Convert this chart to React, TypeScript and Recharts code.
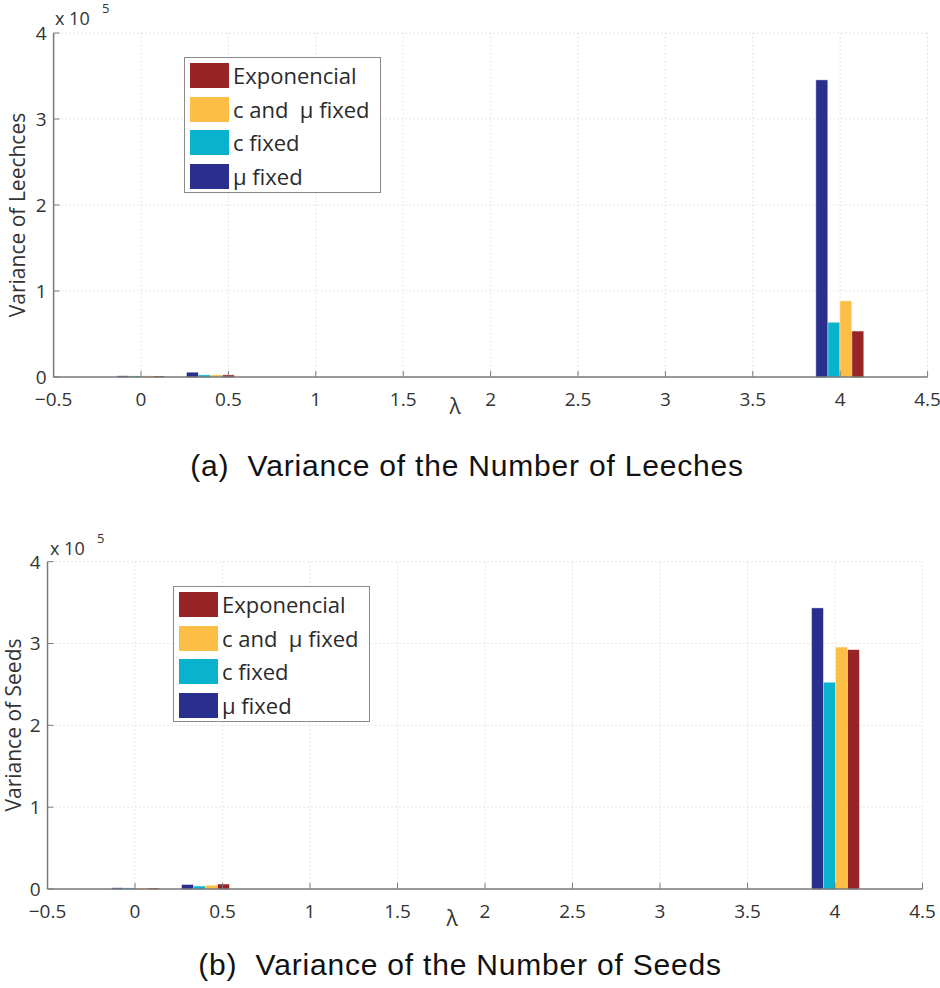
import { BarChart, Bar, XAxis, YAxis, CartesianGrid } from 'recharts';

// lambda positions of the bar groups
const lambdas = [0, 0.4, 4];
const xTicks = [-0.5, 0, 0.5, 1, 1.5, 2, 2.5, 3, 3.5, 4, 4.5];
const yTicks = [0, 100000, 200000, 300000, 400000];

// (a) variance of leeches
const leechMuFixed = [900, 5000, 345000];
const leechCFixed = [700, 2000, 63000];
const leechCMuFixed = [800, 2000, 88000];
const leechExp = [600, 2000, 53000];

// (b) variance of seeds
const seedMuFixed = [1000, 5000, 343000];
const seedCFixed = [800, 3000, 252000];
const seedCMuFixed = [700, 4000, 295000];
const seedExp = [600, 5500, 292000];

const series = [
  { key: 'mu', name: 'μ fixed', color: '#2a2f8e' },
  { key: 'c', name: 'c fixed', color: '#0ab3cd' },
  { key: 'cmu', name: 'c and  μ fixed', color: '#fcbe44' },
  { key: 'exp', name: 'Exponencial', color: '#982427' },
];

const buildRows = (mu: number[], c: number[], cmu: number[], exp: number[]) =>
  lambdas.map((lambda, i) => ({ lambda, mu: mu[i], c: c[i], cmu: cmu[i], exp: exp[i] }));

const leechRows = buildRows(leechMuFixed, leechCFixed, leechCMuFixed, leechExp);
const seedRows = buildRows(seedMuFixed, seedCFixed, seedCMuFixed, seedExp);

const FONT = '"Open Sans", sans-serif';
const AXIS = '#7a7a7a';
const TICK_TEXT = '#333';
const TICK_LEN = 6;
const W = 940;
const H = 420;

const fmtX = (v: number) => (v < 0 ? '\u2212' + Math.abs(v) : String(v));
const fmtY = (v: number) => String(v / 100000);

// MATLAB style: tick marks point into the plot box
const BottomTick = ({ x, y, payload }: any) => (
  <g>
    <line x1={x} x2={x} y1={y - 15} y2={y - 15 - TICK_LEN} stroke={AXIS} />
    <text x={x} y={y} dy="0.72em" textAnchor="middle" fontFamily={FONT} fontSize={19} fill={TICK_TEXT}>
      {fmtX(payload.value)}
    </text>
  </g>
);

const LeftTick = ({ x, y, payload }: any) => (
  <g>
    <line x1={x + 7} x2={x + 7 + TICK_LEN} y1={y} y2={y} stroke={AXIS} />
    <text x={x} y={y} dy="0.36em" textAnchor="end" fontFamily={FONT} fontSize={19} fill={TICK_TEXT}>
      {fmtY(payload.value)}
    </text>
  </g>
);

const TopTick = ({ x, y }: any) => (
  <line x1={x} x2={x} y1={y} y2={y + TICK_LEN} stroke={AXIS} />
);

const RightTick = ({ x, y }: any) => (
  <line x1={x} x2={x - TICK_LEN} y1={y} y2={y} stroke={AXIS} />
);

interface PanelProps {
  top: number;
  rows: any[];
  plot: { left: number; top: number; right: number; bottom: number };
  yLabel: string;
  yLabelPos: [number, number];
  legendPos: [number, number];
  caption: string;
  captionPos: [number, number];
  lambdaPos: [number, number];
  expPos: [number, number];
}

function Legend({ left, top }: { left: number; top: number }) {
  const items = [...series].reverse();
  return (
    <div
      style={{
        position: 'absolute',
        left,
        top,
        width: 197,
        height: 136,
        boxSizing: 'border-box',
        border: '1px solid #8a8a8a',
        background: '#fff',
      }}
    >
      {items.map((s, i) => (
        <div key={s.key} style={{ position: 'absolute', left: 5, top: 5 + i * 33.7, height: 26 }}>
          <div
            style={{
              position: 'absolute',
              left: 0,
              top: 0,
              width: 39,
              height: 25,
              background: s.color,
              boxSizing: 'border-box',
              border: `1px dotted ${s.color}`,
            }}
          />
          <span
            style={{
              position: 'absolute',
              left: 43,
              top: -3,
              fontFamily: FONT,
              fontSize: 22,
              lineHeight: '30px',
              color: '#2a2a2a',
              whiteSpace: 'pre',
            }}
          >
            {s.name}
          </span>
        </div>
      ))}
    </div>
  );
}

function Panel(p: PanelProps) {
  const margin = {
    top: p.plot.top,
    right: W - p.plot.right,
    left: 0,
    bottom: H - p.plot.bottom - 30,
  };
  return (
    <div style={{ position: 'absolute', left: 0, top: p.top, width: W, height: H + 80 }}>
      <BarChart width={W} height={H} data={p.rows} margin={margin} barSize={11} barGap={1}>
        <CartesianGrid
          xAxisId="b"
          yAxisId="l"
          stroke="#cfcfcf"
          strokeDasharray="1 3"
          verticalValues={xTicks}
          horizontalValues={yTicks}
        />
        <XAxis
          xAxisId="b"
          dataKey="lambda"
          type="number"
          domain={[-0.5, 4.5]}
          ticks={xTicks}
          interval={0}
          allowDataOverflow
          height={30}
          stroke={AXIS}
          strokeWidth={1.5}
          tickLine={false}
          tickSize={0}
          tickMargin={15}
          tick={<BottomTick />}
        />
        <XAxis
          xAxisId="t"
          orientation="top"
          dataKey="lambda"
          type="number"
          domain={[-0.5, 4.5]}
          ticks={xTicks}
          interval={0}
          allowDataOverflow
          height={0}
          stroke={AXIS}
          strokeWidth={1.5}
          tickLine={false}
          tickSize={0}
          tickMargin={0}
          tick={<TopTick />}
        />
        <YAxis
          yAxisId="l"
          type="number"
          domain={[0, 400000]}
          ticks={yTicks}
          interval={0}
          width={p.plot.left}
          stroke={AXIS}
          strokeWidth={1.5}
          tickLine={false}
          tickSize={0}
          tickMargin={7}
          tick={<LeftTick />}
        />
        <YAxis
          yAxisId="r"
          orientation="right"
          type="number"
          domain={[0, 400000]}
          ticks={yTicks}
          interval={0}
          width={0}
          stroke={AXIS}
          strokeWidth={1.5}
          tickLine={false}
          tickSize={0}
          tickMargin={0}
          tick={<RightTick />}
        />
        {series.map((s) => (
          <Bar
            key={s.key}
            xAxisId="b"
            yAxisId="l"
            dataKey={s.key}
            name={s.name}
            fill={s.color}
            stroke={s.color}
            strokeWidth={0.5}
            isAnimationActive={false}
          />
        ))}
      </BarChart>
      <svg
        width={W}
        height={H + 80}
        style={{ position: 'absolute', left: 0, top: 0, pointerEvents: 'none' }}
      >
        <text x={p.expPos[0]} y={p.expPos[1]} fontFamily={FONT} fontSize={18} fill="#333">
          x 10
        </text>
        <text x={p.expPos[0] + 47} y={p.expPos[1] - 12} fontFamily={FONT} fontSize={13} fill="#333">
          5
        </text>
        <text
          x={p.lambdaPos[0]}
          y={p.lambdaPos[1]}
          fontFamily={FONT}
          fontSize={21}
          fill="#333"
          textAnchor="middle"
        >
          λ
        </text>
        <text
          transform={`translate(${p.yLabelPos[0]},${p.yLabelPos[1]}) rotate(-90)`}
          fontFamily={FONT}
          fontSize={21}
          fill="#333"
          textAnchor="middle"
          dominantBaseline="central"
        >
          {p.yLabel}
        </text>
        <text
          x={p.captionPos[0]}
          y={p.captionPos[1]}
          fontFamily='"Liberation Sans", Arial, sans-serif'
          fontSize={30}
          letterSpacing={0.8}
          fill="#111"
          textAnchor="middle"
          style={{ whiteSpace: 'pre' }}
        >
          {p.caption}
        </text>
      </svg>
      <Legend left={p.legendPos[0]} top={p.legendPos[1]} />
    </div>
  );
}

export default function App() {
  return (
    <div style={{ position: 'absolute', left: 0, top: 0, width: 940, height: 988, background: '#fff' }}>
      <Panel
        top={0}
        rows={leechRows}
        plot={{ left: 53.6, top: 33, right: 927.6, bottom: 377 }}
        yLabel="Variance of Leechces"
        yLabelPos={[17, 215]}
        legendPos={[184, 57]}
        caption="(a)  Variance of the Number of Leeches"
        captionPos={[467, 476]}
        lambdaPos={[455, 414]}
        expPos={[55, 25]}
      />
      <Panel
        top={520}
        rows={seedRows}
        plot={{ left: 47.5, top: 41.7, right: 922.5, bottom: 369 }}
        yLabel="Variance of Seeds"
        yLabelPos={[13, 205]}
        legendPos={[173, 66]}
        caption="(b)  Variance of the Number of Seeds"
        captionPos={[460, 455]}
        lambdaPos={[452, 406]}
        expPos={[50, 35]}
      />
    </div>
  );
}
